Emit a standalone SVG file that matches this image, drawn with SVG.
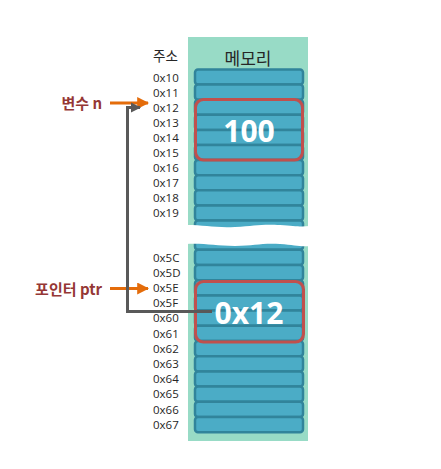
<svg xmlns="http://www.w3.org/2000/svg" width="441" height="469" viewBox="0 0 441 469">
<defs>
<style>
.addr{font-family:"Open Sans","Noto Sans CJK KR",sans-serif;font-size:11.5px;fill:#262626;dominant-baseline:central}
.cell{fill:#4bacc6;stroke:#31849b;stroke-width:2.5}
.hl{fill:none;stroke:#c0504d;stroke-width:3}
.val{font-family:"Open Sans","Noto Sans CJK KR",sans-serif;font-size:30px;font-weight:bold;fill:#ffffff;text-anchor:middle;dominant-baseline:central}
.lbl{font-family:"Noto Sans CJK KR","Open Sans",sans-serif;font-size:15px;font-weight:bold;fill:#953735;text-anchor:end;dominant-baseline:central}
.kr{font-family:"Noto Sans CJK KR",sans-serif;fill:#262626;dominant-baseline:central}
</style>
<marker id="ao" viewBox="0 0 10 10" refX="9" refY="5" markerWidth="4" markerHeight="4" orient="auto" markerUnits="strokeWidth"><path d="M0,0 L10,5 L0,10 z" fill="#e46c0a"/></marker>
<marker id="ag" viewBox="0 0 10 10" refX="9" refY="5" markerWidth="3.5" markerHeight="3.5" orient="auto" markerUnits="strokeWidth"><path d="M0,0 L10,5 L0,10 z" fill="#595959"/></marker>
</defs>
<rect width="441" height="469" fill="#ffffff"/>
<g id="memory">
<rect x="188" y="37" width="120" height="404" fill="#98dbc6"/>
<text class="kr" x="248" y="57" font-size="17" text-anchor="middle">메모리</text>
<text class="kr" x="153" y="55" font-size="13.5">주소</text>
<g id="cells-top">
<rect class="cell" x="195" y="69.5" width="108" height="15.1" rx="3"/>
<rect class="cell" x="195" y="84.6" width="108" height="15.1" rx="3"/>
<rect class="cell" x="195" y="99.7" width="108" height="15.1" rx="3"/>
<rect class="cell" x="195" y="114.8" width="108" height="15.1" rx="3"/>
<rect class="cell" x="195" y="129.9" width="108" height="15.1" rx="3"/>
<rect class="cell" x="195" y="145" width="108" height="15.1" rx="3"/>
<rect class="cell" x="195" y="160.1" width="108" height="15.1" rx="3"/>
<rect class="cell" x="195" y="175.2" width="108" height="15.1" rx="3"/>
<rect class="cell" x="195" y="190.3" width="108" height="15.1" rx="3"/>
<rect class="cell" x="195" y="205.4" width="108" height="15.1" rx="3"/>
<rect class="cell" x="195" y="220.5" width="108" height="15.1" rx="3"/>
</g>
<g id="cells-bottom">
<rect class="cell" x="195" y="234.6" width="108" height="15.2" rx="3"/>
<rect class="cell" x="195" y="249.8" width="108" height="15.2" rx="3"/>
<rect class="cell" x="195" y="265" width="108" height="15.2" rx="3"/>
<rect class="cell" x="195" y="280.2" width="108" height="15.2" rx="3"/>
<rect class="cell" x="195" y="295.4" width="108" height="15.2" rx="3"/>
<rect class="cell" x="195" y="310.6" width="108" height="15.2" rx="3"/>
<rect class="cell" x="195" y="325.8" width="108" height="15.2" rx="3"/>
<rect class="cell" x="195" y="341" width="108" height="15.2" rx="3"/>
<rect class="cell" x="195" y="356.2" width="108" height="15.2" rx="3"/>
<rect class="cell" x="195" y="371.4" width="108" height="15.2" rx="3"/>
<rect class="cell" x="195" y="386.6" width="108" height="15.2" rx="3"/>
<rect class="cell" x="195" y="401.8" width="108" height="15.2" rx="3"/>
<rect class="cell" x="195" y="417" width="108" height="15.2" rx="3"/>
</g>
<path d="M186,225 C205,225 215,228 235,227 C255,226 260,224 280,225 C295,226 300,227 310,226 L310,246 C300,247 295,245 280,244 C260,243 255,246 235,246 C215,246 205,243 186,244 Z" fill="#ffffff"/>
</g>
<g id="var-n">
<rect class="hl" x="195.5" y="99.5" width="107" height="60.5" rx="8"/>
<text class="val" x="249" y="130">100</text>
</g>
<g id="ptr">
<rect class="hl" x="195.5" y="281.5" width="108" height="60.5" rx="8"/>
<text class="val" x="249" y="312">0x12</text>
</g>
<g id="addresses">
<text class="addr" x="153" y="77">0x10</text>
<text class="addr" x="153" y="92">0x11</text>
<text class="addr" x="153" y="107">0x12</text>
<text class="addr" x="153" y="122.3">0x13</text>
<text class="addr" x="153" y="137.4">0x14</text>
<text class="addr" x="153" y="152.5">0x15</text>
<text class="addr" x="153" y="167.6">0x16</text>
<text class="addr" x="153" y="182.7">0x17</text>
<text class="addr" x="153" y="197.8">0x18</text>
<text class="addr" x="153" y="212.9">0x19</text>
<text class="addr" x="153" y="257">0x5C</text>
<text class="addr" x="153" y="272.2">0x5D</text>
<text class="addr" x="153" y="287.4">0x5E</text>
<text class="addr" x="153" y="302.6">0x5F</text>
<text class="addr" x="153" y="317.8">0x60</text>
<text class="addr" x="153" y="333">0x61</text>
<text class="addr" x="153" y="348.2">0x62</text>
<text class="addr" x="153" y="363.4">0x63</text>
<text class="addr" x="153" y="378.6">0x64</text>
<text class="addr" x="153" y="393.8">0x65</text>
<text class="addr" x="153" y="409">0x66</text>
<text class="addr" x="153" y="424.2">0x67</text>
</g>
<g id="label-n"><text class="lbl" x="102" y="102">변수 n</text></g>
<g id="label-ptr"><text class="lbl" x="102" y="288">포인터 ptr</text></g>
<g id="connectors">
<line x1="110" y1="103" x2="148" y2="103" stroke="#e46c0a" stroke-width="3" marker-end="url(#ao)"/>
<line x1="110" y1="288.5" x2="148" y2="288.5" stroke="#e46c0a" stroke-width="3" marker-end="url(#ao)"/>
<path d="M212,311.5 L127.5,311.5 L127.5,107.5 L140,107.5" fill="none" stroke="#595959" stroke-width="3" marker-end="url(#ag)"/>
</g>
</svg>
